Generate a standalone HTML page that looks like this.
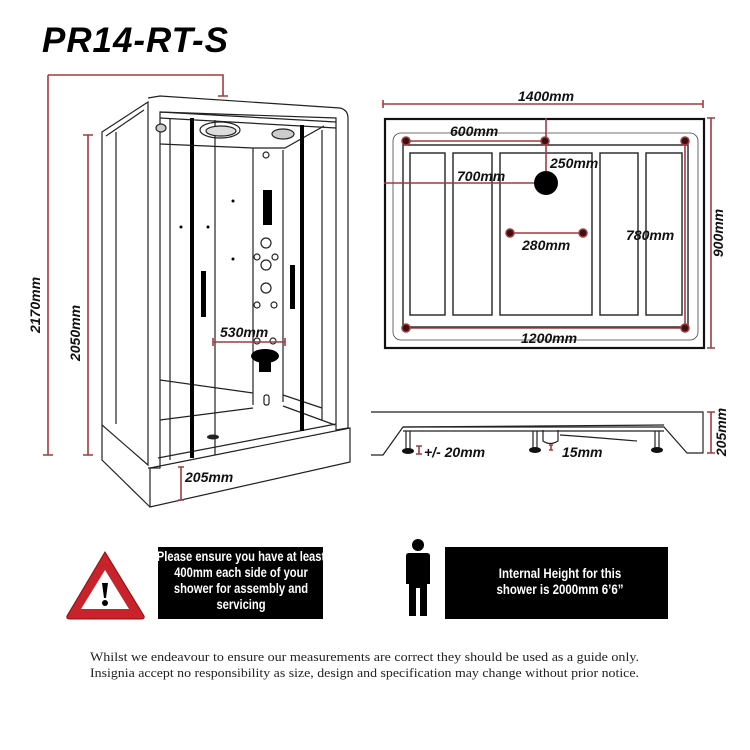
<!DOCTYPE html>
<html><head><meta charset="utf-8"><style>
html,body{margin:0;padding:0;background:#fff;width:750px;height:750px;overflow:hidden}
svg{display:block}
.d{font-family:"Liberation Sans",sans-serif;font-weight:bold;font-style:italic;font-size:14px;fill:#111}
.r{stroke:#a33a3f;stroke-width:1.6;fill:none}
.k{stroke:#222;stroke-width:1.2;fill:none}
.w{font-family:"Liberation Sans",sans-serif;font-weight:bold;font-size:14px;fill:#fff;text-anchor:middle}
.f{font-family:"Liberation Serif",serif;font-size:12.5px;fill:#222}
</style></head><body>
<svg width="750" height="750" viewBox="0 0 750 750" xmlns="http://www.w3.org/2000/svg">
<text x="42" y="52" font-family="Liberation Sans,sans-serif" font-weight="bold" font-style="italic" font-size="35" textLength="186" fill="#000">PR14-RT-S</text>

<!-- shower dims -->
<path class="r" d="M48 75 H223 V96 M218 96 H228 M48 75 V455 M43 455 H53 M88 135 V455 M83 135 H93 M83 455 H93"/>
<text class="d" transform="translate(40,305) rotate(-90)" text-anchor="middle">2170mm</text>
<text class="d" transform="translate(80,333) rotate(-90)" text-anchor="middle">2050mm</text>

<!-- shower body -->
<g class="k">
<path d="M102 132 L148 102 L148 465 L102 425 Z"/>
<path d="M106 136 L144 110 M116 132 V424"/>
<path d="M148 98 L160 96 L340 108 Q348 110 348 118 V428 L336 430 V118 L160 112 V468 L148 468"/>
<path d="M160 112 L336 122 M160 118 L336 128"/>
<path d="M160 144 L253 148 L285 148 L324 126 M253 148 V405 M283 150 V402 M170 118 V460 M215 120 V455 M322 130 V420"/>
<path d="M160 380 L253 393 M283 395 L322 408 M160 420 L253 408 M283 406 L335 425"/>
<path d="M150 468 L350 428 V462 L150 507 Z M102 425 L102 460 L150 507 M158 458 L336 424"/>
<ellipse cx="220" cy="130" rx="20" ry="8"/><ellipse cx="221" cy="131" rx="15" ry="5" fill="#ddd"/>
<ellipse cx="283" cy="134" rx="11" ry="5" fill="#ccc"/>
<ellipse cx="161" cy="128" rx="5" ry="4" fill="#ccc"/>
<circle cx="266" cy="155" r="3"/>
<circle cx="266" cy="243" r="5"/><circle cx="266" cy="265" r="5"/><circle cx="266" cy="288" r="5"/>
<circle cx="257" cy="257" r="3"/><circle cx="275" cy="257" r="3"/><circle cx="257" cy="305" r="3"/><circle cx="274" cy="305" r="3"/>
<circle cx="257" cy="341" r="3"/><circle cx="273" cy="341" r="3"/>
<rect x="264" y="395" width="5" height="10" rx="2"/>
</g>
<rect x="263" y="190" width="9" height="35" fill="#000"/>
<rect x="190" y="118" width="4" height="340" fill="#000"/>
<rect x="300" y="125" width="4" height="306" fill="#000"/>
<rect x="201" y="271" width="5" height="46" fill="#000"/>
<rect x="290" y="265" width="5" height="44" fill="#000"/>
<circle cx="233" cy="201" r="1.5"/><circle cx="181" cy="227" r="1.5"/><circle cx="208" cy="227" r="1.5"/><circle cx="233" cy="259" r="1.5"/>
<ellipse cx="265" cy="356" rx="14" ry="7" fill="#000"/><rect x="259" y="356" width="12" height="16" fill="#000"/>
<ellipse cx="213" cy="437" rx="6" ry="2.5" fill="#222"/>
<path class="r" d="M213 342 H285 M213 338 V346 M285 338 V346"/>
<text class="d" x="220" y="337">530mm</text>
<path class="r" d="M181 467 V500 M178 467 H184 M178 500 H184"/>
<text class="d" x="185" y="482">205mm</text>

<!-- plan -->
<path class="r" d="M383 104 H703 M383 100 V108 M703 100 V108"/>
<text class="d" x="518" y="101">1400mm</text>
<rect x="385" y="119" width="319" height="229" fill="none" stroke="#111" stroke-width="2.2"/>
<rect x="393" y="133" width="305" height="207" rx="8" fill="none" stroke="#444" stroke-width="0.8"/>
<rect x="403" y="145" width="285" height="182" fill="none" stroke="#222" stroke-width="1.4"/>
<g fill="none" stroke="#222" stroke-width="1.4">
<rect x="410" y="153" width="35" height="162"/><rect x="453" y="153" width="39" height="162"/>
<rect x="500" y="153" width="92" height="162"/><rect x="600" y="153" width="38" height="162"/><rect x="646" y="153" width="36" height="162"/>
</g>
<path class="r" d="M406 141 H545 M546 118 V183 M384 183 H546 M510 233 H583 M685 141 V328 M406 328 H685 M711 118 V348 M707 118 H715 M707 348 H715"/>
<circle cx="546" cy="183" r="12" fill="#000"/>
<g fill="#3a1010" stroke="#a33a3f" stroke-width="1.5">
<circle cx="406" cy="141" r="4"/><circle cx="545" cy="141" r="4"/><circle cx="685" cy="141" r="4"/>
<circle cx="406" cy="328" r="4"/><circle cx="685" cy="328" r="4"/><circle cx="510" cy="233" r="4"/><circle cx="583" cy="233" r="4"/>
</g>
<text class="d" x="450" y="136">600mm</text>
<text class="d" x="550" y="168">250mm</text>
<text class="d" x="457" y="181">700mm</text>
<text class="d" x="522" y="250">280mm</text>
<text class="d" x="626" y="240">780mm</text>
<text class="d" x="521" y="343">1200mm</text>
<text class="d" transform="translate(723,233) rotate(-90)" text-anchor="middle">900mm</text>

<!-- side elevation -->
<g class="k" stroke-width="1.3">
<path d="M371 412 H703 V453 H687 L664 427 H403 L383 455 H371"/>
<path d="M403 427 L664 425 M403 431 H664"/>
<path d="M406 431 V450 M410 431 V450 M533 431 V448 M537 431 V448 M655 431 V448 M659 431 V448"/>
<path d="M543 430 V441 Q550 446 558 441 V430 M560 435 Q590 437 637 441"/>
</g>
<g fill="#111"><ellipse cx="408" cy="451" rx="6" ry="3"/><ellipse cx="535" cy="450" rx="6" ry="3"/><ellipse cx="657" cy="450" rx="6" ry="3"/></g>
<path class="r" d="M419 446 V454 M416 446 H422 M416 454 H422 M551 445 V450 M549 445 H553 M549 450 H553 M711 412 V453 M707 412 H715 M707 453 H715"/>
<text class="d" x="424" y="457">+/- 20mm</text>
<text class="d" x="562" y="457">15mm</text>
<text class="d" transform="translate(726,432) rotate(-90)" text-anchor="middle">205mm</text>

<!-- bottom notices -->
<path d="M105 552 L67 616 Q66 619 70 619 H141 Q145 619 144 616 Z" fill="#c8222a" stroke="#8a1015" stroke-width="1"/>
<path d="M105 570 L81 609 H129 Z" fill="#fff"/>
<path d="M102 583 H108 L106 598 H104 Z" fill="#000"/><circle cx="105" cy="603" r="3" fill="#000"/>
<rect x="158" y="547" width="165" height="72" fill="#000"/>
<g transform="translate(241,0) scale(0.8,1)">
<text class="w" x="0" y="561">Please ensure you have at least</text>
<text class="w" x="0" y="577">400mm each side of your</text>
<text class="w" x="0" y="593">shower for assembly and</text>
<text class="w" x="0" y="609">servicing</text>
</g>
<g fill="#000">
<circle cx="418" cy="545" r="6"/>
<path d="M409 553 H427 Q430 553 430 556 V584 H427 V616 H420 V588 H416 V616 H409 V584 H406 V556 Q406 553 409 553 Z"/>
</g>
<rect x="445" y="547" width="223" height="72" fill="#000"/>
<g transform="translate(560,0) scale(0.82,1)">
<text class="w" x="0" y="578">Internal Height for this</text>
<text class="w" x="0" y="594">shower is 2000mm 6’6”</text>
</g>
<text class="f" x="90" y="661" textLength="549" lengthAdjust="spacingAndGlyphs">Whilst we endeavour to ensure our measurements are correct they should be used as a guide only.</text>
<text class="f" x="90" y="677" textLength="549" lengthAdjust="spacingAndGlyphs">Insignia accept no responsibility as size, design and specification may change without prior notice.</text>
</svg>
</body></html>
